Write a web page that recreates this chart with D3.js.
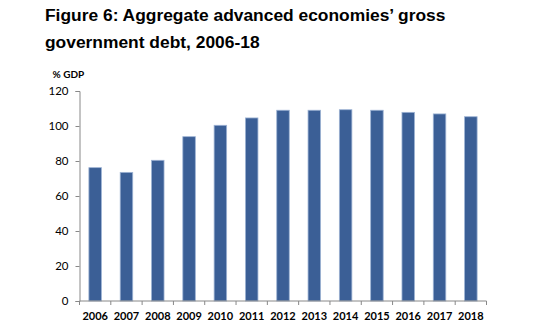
<!DOCTYPE html>
<html><head><meta charset="utf-8">
<script src="https://cdn.jsdelivr.net/npm/d3@7"></script>
<style>body{margin:0;background:#fff}</style>
</head><body>
<svg id="chart" width="550" height="335"></svg>
<script>
const years = ["2006","2007","2008","2009","2010","2011","2012","2013","2014","2015","2016","2017","2018"];
const debt = [76.2, 73.5, 80.4, 93.9, 100.4, 104.6, 109.0, 109.0, 109.3, 109.0, 107.8, 106.9, 105.3];
const yTicks = [0, 20, 40, 60, 80, 100, 120];
const titleLines = ["Figure 6: Aggregate advanced economies\u2019 gross", "government debt, 2006-18"];
const unitLabel = "% GDP";

(function () {
const svg = d3.select("#chart");
const mLeft = 79.5, mRight = 486.5, mTop = 91, mBottom = 301;

svg.selectAll("text.title").data(titleLines).join("text")
  .attr("class","title")
  .attr("x", 45).attr("y", (d,i) => 21 + i*26.5)
  .attr("font-family","Liberation Sans, Arial, sans-serif")
  .attr("font-weight","bold").attr("font-size","17.4px").attr("fill","#000")
  .text(d => d);

svg.append("text").attr("x", 52.5).attr("y", 77.5)
  .attr("font-family","Lato, sans-serif").attr("font-weight","bold")
  .attr("font-size","10px").attr("fill","#000").text(unitLabel);

const x = d3.scaleBand().domain(years).range([mLeft, mRight]).padding(0);
const y = d3.scaleLinear().domain([0, 120]).range([mBottom, mTop]);

const barW = x.bandwidth() * 0.4;
svg.append("g").selectAll("rect").data(years).join("rect")
  .attr("x", (d) => x(d) + (x.bandwidth() - barW)/2)
  .attr("y", (d,i) => y(debt[i]))
  .attr("width", barW)
  .attr("height", (d,i) => mBottom - y(debt[i]))
  .attr("fill", "#3b5f96")
  .attr("stroke", "#9db3d4").attr("stroke-width", 0.8);

const yAxis = d3.axisLeft(y).tickValues(yTicks).tickSize(4).tickPadding(7);
const gy = svg.append("g").attr("transform", `translate(${mLeft},0)`).call(yAxis);
gy.select(".domain").attr("stroke","#888");
gy.selectAll(".tick line").attr("stroke","#888");
gy.selectAll(".tick text").attr("font-family","Lato, sans-serif").attr("font-size","11.5px").attr("fill","#000");

const gx = svg.append("g").attr("transform", `translate(0,${mBottom})`);
gx.append("line").attr("x1", mLeft).attr("x2", mRight).attr("y1",0).attr("y2",0).attr("stroke","#888");
const bounds = years.map(d => x(d)).concat([mRight]);
gx.selectAll("line.tk").data(bounds).join("line").attr("class","tk")
  .attr("x1", d => d).attr("x2", d => d).attr("y1", 0).attr("y2", 4).attr("stroke","#888");
gx.selectAll("text").data(years).join("text")
  .attr("x", d => x(d) + x.bandwidth()/2).attr("y", 19)
  .attr("text-anchor","middle")
  .attr("font-family","Lato, sans-serif").attr("font-weight","bold")
  .attr("font-size","11px").attr("fill","#000").text(d => d);
})();
</script>
</body></html>
